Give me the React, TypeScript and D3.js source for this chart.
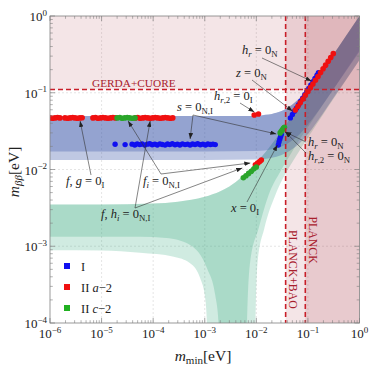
import React from "react";
import * as d3 from "d3";

const W = 369;
const H = 369;
const margin = { top: 16, right: 9.5, bottom: 46, left: 50 };

// decades shown on the axes
const xMajor = [1e-6, 1e-5, 1e-4, 1e-3, 1e-2, 1e-1, 1];
const xExp = ["−6", "−5", "−4", "−3", "−2", "−1", "0"];
const yMajor = [1e-4, 1e-3, 1e-2, 1e-1, 1];
const yExp = ["−4", "−3", "−2", "−1", "0"];

// limits
const gerdaCuore = 0.11;
const planckBao = 0.037;
const planck = 0.089;

// inverted ordering band [m_min, m_bb]
const ioUpper = [
  [1e-6, 0.0498], [1e-3, 0.0498], [0.01, 0.0499], [0.015, 0.0515], [0.02, 0.053],
  [0.03, 0.0572], [0.05, 0.0702], [0.07, 0.0858], [0.1, 0.111], [0.2, 0.206],
  [0.3, 0.304], [0.5, 0.502], [1, 1.0],
];
const ioDarkLower = [
  [1e-6, 0.0172], [1e-3, 0.0172], [0.01, 0.0174], [0.02, 0.0183], [0.03, 0.0198],
  [0.05, 0.024], [0.07, 0.029], [0.1, 0.0385], [0.2, 0.072], [0.3, 0.107],
  [0.5, 0.175], [1, 0.345],
];
const ioLightLower = [
  [1e-6, 0.0133], [1e-3, 0.0133], [0.01, 0.0135], [0.02, 0.0142], [0.03, 0.0153],
  [0.05, 0.0185], [0.07, 0.0222], [0.1, 0.029], [0.2, 0.055], [0.3, 0.082],
  [0.5, 0.135], [1, 0.268],
];

// normal ordering band [m_min, m_bb]
const noUpper = [
  [1e-6, 0.0035], [1e-5, 0.0035], [1e-4, 0.0036], [3e-4, 0.0038], [1e-3, 0.0044],
  [2e-3, 0.0052], [3e-3, 0.006], [5e-3, 0.0078], [7e-3, 0.0096], [0.01, 0.0124],
  [0.015, 0.0168], [0.02, 0.0215], [0.03, 0.031], [0.05, 0.051], [0.07, 0.071],
  [0.1, 0.101], [0.2, 0.2], [0.3, 0.3], [0.5, 0.5], [1, 1.0],
];
const noDarkLower = [
  [1e-6, 0.00133], [5.6e-5, 0.00133], [1.8e-4, 0.00128], [5.2e-4, 0.00104],
  [1.1e-3, 5.2e-4], [1.6e-3, 2.3e-4], [1.85e-3, 1e-4], [1.95e-3, 1e-6],
  [6.4e-3, 1e-6], [6.6e-3, 1e-4], [7.6e-3, 6.3e-4], [0.0111, 0.00171],
  [0.0173, 0.00466], [0.03, 0.0097], [0.05, 0.0173], [0.07, 0.025], [0.1, 0.0356],
  [0.2, 0.072], [0.3, 0.107], [0.5, 0.18], [1, 0.358],
];
const noLightLower = [
  [1e-6, 8.9e-4], [1e-5, 8.8e-4], [5.6e-5, 8.2e-4], [2.5e-4, 7.3e-4], [5.2e-4, 6.0e-4],
  [8.2e-4, 3.8e-4], [1.02e-3, 2.1e-4], [1.1e-3, 1e-4], [1.15e-3, 1e-6],
  [9.4e-3, 1e-6], [9.6e-3, 1e-4], [0.0106, 6.3e-4], [0.0143, 0.00171],
  [0.0234, 0.00466], [0.03, 0.0068], [0.05, 0.0125], [0.07, 0.018], [0.1, 0.026],
  [0.2, 0.053], [0.3, 0.08], [0.5, 0.133], [1, 0.27],
];

// model points [m_min, m_bb]
const typeI = [
  [1.83e-5, 0.0213], [2.86e-5, 0.0211], [3.9e-5, 0.0214], [4.4e-5, 0.0209], [4.9e-5, 0.0216],
  [5.5e-5, 0.0211], [6.1e-5, 0.0215], [6.9e-5, 0.0208], [7.7e-5, 0.0214], [8.6e-5, 0.0217],
  [9.6e-5, 0.021], [1.08e-4, 0.0214], [1.2e-4, 0.0209], [1.35e-4, 0.0216], [1.5e-4, 0.0212],
  [1.7e-4, 0.0208], [1.9e-4, 0.0215], [2.1e-4, 0.0211], [2.35e-4, 0.0217], [2.65e-4, 0.021],
  [2.95e-4, 0.0214], [3.3e-4, 0.0209], [3.7e-4, 0.0216], [4.15e-4, 0.0211], [4.65e-4, 0.0214],
  [5.2e-4, 0.0208], [5.8e-4, 0.0215], [6.5e-4, 0.0212], [7.3e-4, 0.0217], [8.2e-4, 0.021],
  [9.2e-4, 0.0214], [1.03e-3, 0.0209], [1.15e-3, 0.0215], [1.29e-3, 0.0212], [1.44e-3, 0.0214],
  [1.6e-3, 0.0211],
  [0.0267, 0.0209], [0.0275, 0.0228], [0.0285, 0.0248], [0.0295, 0.0267], [0.0305, 0.0285],
  [0.0457, 0.047], [0.05, 0.052], [0.055, 0.0575], [0.06, 0.063], [0.066, 0.07],
  [0.072, 0.0768], [0.079, 0.085], [0.087, 0.094], [0.095, 0.103], [0.104, 0.114],
  [0.114, 0.126], [0.125, 0.139], [0.137, 0.153], [0.15, 0.169], [0.16, 0.182],
];
const typeIIa = [
  [1.0e-6, 0.047], [1.12e-6, 0.0465], [1.25e-6, 0.047], [1.4e-6, 0.0475], [1.56e-6, 0.047],
  [1.95e-6, 0.047], [2.2e-6, 0.0465], [2.45e-6, 0.047], [2.75e-6, 0.0475], [3.05e-6, 0.047],
  [3.4e-6, 0.0465], [3.8e-6, 0.047], [4.2e-6, 0.0472],
  [6.8e-6, 0.047], [7.6e-6, 0.0475], [8.5e-6, 0.0465], [9.5e-6, 0.047], [1.06e-5, 0.0475],
  [1.19e-5, 0.047], [1.33e-5, 0.0465], [1.49e-5, 0.047], [1.66e-5, 0.0475], [1.86e-5, 0.047],
  [4.5e-5, 0.047], [5.0e-5, 0.0475], [5.6e-5, 0.0465], [6.3e-5, 0.047], [7.0e-5, 0.0475],
  [7.9e-5, 0.047], [8.8e-5, 0.0465], [9.8e-5, 0.047], [1.1e-4, 0.0475], [1.23e-4, 0.047],
  [1.38e-4, 0.0465], [1.54e-4, 0.047], [1.72e-4, 0.0475], [1.93e-4, 0.047], [2.16e-4, 0.0465],
  [2.4e-4, 0.047],
  [0.0091, 0.0513], [0.011, 0.0528],
  [0.0096, 0.0115], [0.0106, 0.0121], [0.0116, 0.0127], [0.0125, 0.0133],
  [0.057, 0.0595], [0.064, 0.0665], [0.071, 0.074], [0.08, 0.083], [0.089, 0.0925],
  [0.1, 0.104], [0.112, 0.1165], [0.125, 0.13], [0.14, 0.1455], [0.157, 0.163],
  [0.176, 0.183], [0.197, 0.205], [0.22, 0.229], [0.247, 0.257], [0.277, 0.288], [0.31, 0.323],
];
const typeIIc = [
  [2.0e-5, 0.047], [2.25e-5, 0.0475], [2.5e-5, 0.0465], [2.8e-5, 0.047], [3.15e-5, 0.0475],
  [3.5e-5, 0.047], [3.95e-5, 0.0465], [4.45e-5, 0.047],
  [0.0056, 0.0078], [0.0063, 0.0083], [0.0071, 0.0089], [0.008, 0.0095], [0.009, 0.0102],
  [0.01, 0.0108],
  [0.029, 0.03], [0.0305, 0.0315], [0.032, 0.033], [0.0335, 0.0345], [0.035, 0.0355],
];

const legend = [
  { roman: "I", italic: "", tail: "", color: "#1010f0" },
  { roman: "II ", italic: "a", tail: "−2", color: "#f01010" },
  { roman: "II ", italic: "c", tail: "−2", color: "#20b020" },
];

type Part = { t: string; i?: boolean; sub?: boolean };
const P = (t: string, i = false, sub = false): Part => ({ t, i, sub });

// label (pixel anchor) and arrow tips (data coordinates)
const notes: { x: number; y: number; parts: Part[]; from: number[]; tips: number[][] }[] = [
  { x: 242, y: 54, parts: [P("h", true), P("r", true, true), P(" = 0"), P("N", false, true)], from: [262, 58], tips: [[0.117, 0.142]] },
  { x: 236, y: 77, parts: [P("z", true), P(" = 0"), P("N", false, true)], from: [252, 80], tips: [[0.05, 0.0578]] },
  { x: 214, y: 100, parts: [P("h", true), P("r", true, true), P(",2", false, true), P(" = 0"), P("I", false, true)], from: [240, 103], tips: [[0.00914, 0.0561]] },
  { x: 177, y: 111, parts: [P("s", true), P(" = 0"), P("N,I", false, true)], from: [193, 115], tips: [[5.2e-4, 0.025], [0.0244, 0.029]] },
  { x: 66, y: 185, parts: [P("f", true), P(", "), P("g", true), P(" = 0"), P("I", false, true)], from: [91, 175], tips: [[3.83e-6, 0.0429]] },
  { x: 143, y: 185, parts: [P("f", true), P("i", true, true), P(" = 0"), P("N,I", false, true)], from: [161, 174], tips: [[3.27e-5, 0.0429], [7.64e-3, 0.01216]] },
  { x: 101, y: 218, parts: [P("f", true), P(", "), P("h", true), P("i", true, true), P(" = 0"), P("N,I", false, true)], from: [135, 208], tips: [[8.75e-5, 0.0429], [5.35e-3, 0.01047]] },
  { x: 231, y: 212, parts: [P("x", true), P(" = 0"), P("I", false, true)], from: [247, 202], tips: [[0.0256, 0.0209]] },
  { x: 308, y: 146, parts: [P("h", true), P("r", true, true), P(" = 0"), P("N", false, true)], from: [306, 142], tips: [[0.0366, 0.0308]] },
  { x: 308, y: 160, parts: [P("h", true), P("r", true, true), P(",2", false, true), P(" = 0"), P("N", false, true)], from: [306, 153], tips: [[0.0366, 0.0308]] },
];

const serif = "'Liberation Serif', 'Times New Roman', serif";

const MathText = ({ x, y, parts, size = 12.5 }: { x: number; y: number; parts: Part[]; size?: number }) => {
  let shifted = false;
  return (
    <text x={x} y={y} fontFamily={serif} fontSize={size} fill="#222">
      {parts.map((p, k) => {
        let dy = 0;
        if (p.sub && !shifted) { dy = 2.5; shifted = true; }
        if (!p.sub && shifted) { dy = -2.5; shifted = false; }
        return (
          <tspan key={k} dy={dy} fontStyle={p.i ? "italic" : "normal"} fontSize={p.sub ? size * 0.7 : size}>
            {p.t}
          </tspan>
        );
      })}
    </text>
  );
};

export default function App() {
  const x = d3.scaleLog().domain([1e-6, 1]).range([margin.left, W - margin.right]);
  const y = d3.scaleLog().domain([1e-4, 1]).range([H - margin.bottom, margin.top]);
  const [x0, x1] = x.range();
  const [y0, y1] = y.range();

  const line = d3.line<number[]>().x((d) => x(d[0])).y((d) => y(d[1])).curve(d3.curveMonotoneX);
  const band = (upper: number[][], lower: number[][]) =>
    line(upper) + "L" + (line(lower.slice().reverse()) as string).slice(1) + "Z";

  const xMinor = x.ticks().filter((t) => !xMajor.some((m) => Math.abs(m - t) / m < 1e-6));
  const yMinor = y.ticks().filter((t) => !yMajor.some((m) => Math.abs(m - t) / m < 1e-6));

  const tickColor = "#808080";
  const limitRed = "#c81e28";
  const limitFill = "rgb(165,40,55)";

  const dots = (data: number[][], color: string, r: number) =>
    data.map((d, k) => <circle key={k} cx={x(d[0])} cy={y(d[1])} r={r} fill={color} />);

  return (
    <svg width={W} height={H} style={{ position: "absolute", left: 0, top: 0, background: "#fff" }}>
      <defs>
        <clipPath id="plot">
          <rect x={x0} y={y1} width={x1 - x0} height={y0 - y1} />
        </clipPath>
        <marker id="arrow" viewBox="0 0 8 6" refX="8" refY="3" markerWidth="6" markerHeight="4.5" markerUnits="userSpaceOnUse" orient="auto">
          <path d="M0,0 L8,3 L0,6 z" fill="#222" />
        </marker>
      </defs>

      <g clipPath="url(#plot)">
        {/* grid */}
        {xMajor.slice(1, -1).map((t) => (
          <line key={"gx" + t} x1={x(t)} x2={x(t)} y1={y1} y2={y0} stroke="#d4d4d4" strokeWidth={0.6} strokeDasharray="2,2" />
        ))}
        {yMajor.slice(1, -1).map((t) => (
          <line key={"gy" + t} x1={x0} x2={x1} y1={y(t)} y2={y(t)} stroke="#d4d4d4" strokeWidth={0.6} strokeDasharray="2,2" />
        ))}

        {/* bands */}
        <path d={band(noUpper, noLightLower)} fill="rgb(60,170,130)" fillOpacity={0.24} />
        <path d={band(noUpper, noDarkLower)} fill="rgb(60,170,130)" fillOpacity={0.26} />
        <path d={band(ioUpper, ioLightLower)} fill="rgb(60,88,170)" fillOpacity={0.33} />
        <path d={band(ioUpper, ioDarkLower)} fill="rgb(60,88,170)" fillOpacity={0.33} />

        {/* excluded regions */}
        <rect x={x0} y={y1} width={x1 - x0} height={y(gerdaCuore) - y1} fill={limitFill} fillOpacity={0.12} />
        <rect x={x(planckBao)} y={y1} width={x1 - x(planckBao)} height={y0 - y1} fill={limitFill} fillOpacity={0.12} />
        <rect x={x(planck)} y={y1} width={x1 - x(planck)} height={y0 - y1} fill={limitFill} fillOpacity={0.14} />

        {/* points */}
        {dots(typeI, "#1010f0", 2.7)}
        {dots(typeIIa, "#f01010", 2.8)}
        {dots(typeIIc, "#2aa52a", 2.8)}

        {/* limit lines */}
        <line x1={x0} x2={x1} y1={y(gerdaCuore)} y2={y(gerdaCuore)} stroke={limitRed} strokeWidth={1.6} strokeDasharray="5,3" />
        <line x1={x(planckBao)} x2={x(planckBao)} y1={y1} y2={y0} stroke={limitRed} strokeWidth={1.6} strokeDasharray="5,3" />
        <line x1={x(planck)} x2={x(planck)} y1={y1} y2={y0} stroke={limitRed} strokeWidth={1.6} strokeDasharray="5,3" />
      </g>

      {/* limit labels */}
      <text x={92} y={87} fontFamily={serif} fontSize={11.3} fill="#a8202c">GERDA+CUORE</text>
      <text transform="translate(308.5,216.5) rotate(90)" fontFamily={serif} fontSize={11.8} fill="#a8202c">PLANCK</text>
      <text transform="translate(289,230) rotate(90)" fontFamily={serif} fontSize={11.8} fill="#a8202c">PLANCK+BAO</text>

      {/* annotations */}
      {notes.map((n, k) => (
        <g key={"n" + k}>
          {n.tips.map((t, j) => (
            <line key={j} x1={n.from[0]} y1={n.from[1]} x2={x(t[0])} y2={y(t[1])} stroke="#333" strokeWidth={0.6} markerEnd="url(#arrow)" />
          ))}
          <MathText x={n.x} y={n.y} parts={n.parts} />
        </g>
      ))}

      {/* frame and ticks */}
      <rect x={x0} y={y1} width={x1 - x0} height={y0 - y1} fill="none" stroke={tickColor} strokeWidth={0.8} />
      {xMajor.map((t) => (
        <g key={"xt" + t}>
          <line x1={x(t)} x2={x(t)} y1={y0} y2={y0 - 5} stroke={tickColor} strokeWidth={0.7} />
          <line x1={x(t)} x2={x(t)} y1={y1} y2={y1 + 5} stroke={tickColor} strokeWidth={0.7} />
        </g>
      ))}
      {xMinor.map((t) => (
        <g key={"xm" + t}>
          <line x1={x(t)} x2={x(t)} y1={y0} y2={y0 - 2.8} stroke={tickColor} strokeWidth={0.6} />
          <line x1={x(t)} x2={x(t)} y1={y1} y2={y1 + 2.8} stroke={tickColor} strokeWidth={0.6} />
        </g>
      ))}
      {yMajor.map((t) => (
        <g key={"yt" + t}>
          <line x1={x0} x2={x0 + 5} y1={y(t)} y2={y(t)} stroke={tickColor} strokeWidth={0.7} />
          <line x1={x1} x2={x1 - 5} y1={y(t)} y2={y(t)} stroke={tickColor} strokeWidth={0.7} />
        </g>
      ))}
      {yMinor.map((t) => (
        <g key={"ym" + t}>
          <line x1={x0} x2={x0 + 2.8} y1={y(t)} y2={y(t)} stroke={tickColor} strokeWidth={0.6} />
          <line x1={x1} x2={x1 - 2.8} y1={y(t)} y2={y(t)} stroke={tickColor} strokeWidth={0.6} />
        </g>
      ))}

      {/* tick labels */}
      {xMajor.map((t, k) => (
        <text key={"xl" + t} x={x(t)} y={338} textAnchor="middle" fontFamily={serif} fontSize={13} fill="#222">
          10<tspan dy={-5.5} fontSize={9}>{xExp[k]}</tspan>
        </text>
      ))}
      {yMajor.map((t, k) => (
        <text key={"yl" + t} x={47} y={y(t) + 5} textAnchor="end" fontFamily={serif} fontSize={13} fill="#222">
          10<tspan dy={-5.5} fontSize={9}>{yExp[k]}</tspan>
        </text>
      ))}

      {/* axis titles */}
      <text x={203} y={361} textAnchor="middle" fontFamily={serif} fontSize={15.5} fill="#222">
        <tspan fontStyle="italic">m</tspan>
        <tspan dy={3} fontSize={11}>min</tspan>
        <tspan dy={-3}>[eV]</tspan>
      </text>
      <text transform="translate(19,172) rotate(-90)" textAnchor="middle" fontFamily={serif} fontSize={15.5} fill="#222">
        <tspan fontStyle="italic">m</tspan>
        <tspan dy={3} fontSize={11} fontStyle="italic">ββ</tspan>
        <tspan dy={-3}>[eV]</tspan>
      </text>

      {/* legend */}
      {legend.map((l, k) => (
        <g key={"lg" + k} transform={`translate(0,${266 + k * 21})`}>
          <rect x={64} y={-3} width={6} height={6} fill={l.color} />
          <text x={81} y={4.5} fontFamily={serif} fontSize={12.5} fill="#222">
            {l.roman}
            <tspan fontStyle="italic">{l.italic}</tspan>
            {l.tail}
          </text>
        </g>
      ))}
    </svg>
  );
}
